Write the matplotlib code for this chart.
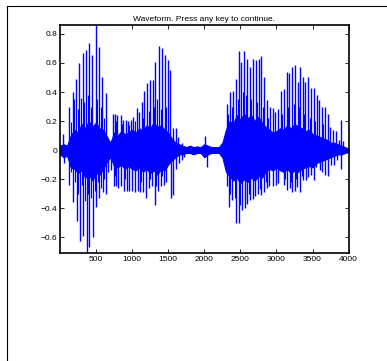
import matplotlib
matplotlib.use("Agg")
import matplotlib.pyplot as plt
from matplotlib.lines import Line2D

# tall positive spikes (sample index, value)
peak_x = [48, 126, 177, 223, 269, 315, 361, 403, 449, 500, 541, 588, 634, 657,
          740, 763, 795, 842, 879, 916, 948, 980, 1017, 1063, 1100, 1133, 1169,
          1206, 1243, 1285, 1322, 1373, 1419, 1456, 1493, 1530, 1567, 1604, 1640,
          1687, 1816, 2010, 2218, 2310, 2351, 2402, 2435, 2476, 2513, 2555, 2596,
          2633, 2670, 2712, 2753, 2790, 2832, 2864, 2910, 2947, 2984, 3021, 3058,
          3104, 3141, 3178, 3215, 3256, 3293, 3326, 3363, 3400, 3441, 3473, 3515,
          3556, 3593, 3626, 3672, 3709, 3746, 3787, 3829, 3866, 3889, 3926, 3972]
peak_y = [0.11, 0.30, 0.40, 0.49, 0.60, 0.67, 0.69, 0.735, 0.655, 0.864, 0.71,
          0.505, 0.39, 0.10, 0.25, 0.25, 0.24, 0.24, 0.21, 0.21, 0.20, 0.21, 0.23,
          0.29, 0.26, 0.33, 0.41, 0.46, 0.48, 0.48, 0.61, 0.72, 0.70, 0.655, 0.62,
          0.55, 0.15, 0.15, 0.09, 0.05, 0.03, 0.10, 0.02, 0.32, 0.40, 0.41, 0.49,
          0.685, 0.61, 0.685, 0.63, 0.575, 0.63, 0.62, 0.63, 0.645, 0.505, 0.345,
          0.30, 0.29, 0.26, 0.28, 0.41, 0.42, 0.54, 0.53, 0.575, 0.585, 0.47,
          0.575, 0.505, 0.47, 0.505, 0.425, 0.43, 0.38, 0.345, 0.30, 0.295, 0.25,
          0.16, 0.14, 0.13, 0.07, 0.21, 0.06, 0.01]

# deep negative spikes (sample index, value)
trough_x = [55, 130, 181, 232, 274, 320, 371, 408, 454, 505, 546, 592, 639, 662,
            703, 745, 777, 809, 847, 888, 925, 962, 1003, 1045, 1082, 1114, 1146,
            1193, 1229, 1271, 1317, 1359, 1396, 1437, 1474, 1535, 1562, 1610, 1645,
            1687, 1724, 2033, 2315, 2347, 2388, 2439, 2481, 2518, 2560, 2592, 2638,
            2675, 2707, 2744, 2786, 2827, 2869, 2901, 2952, 2989, 3026, 3109, 3146,
            3183, 3220, 3252, 3289, 3331, 3368, 3405, 3437, 3478, 3520, 3552, 3598,
            3630, 3677, 3714, 3751, 3792, 3834, 3894, 3977]
trough_y = [-0.09, -0.24, -0.36, -0.49, -0.63, -0.59, -0.712, -0.67, -0.60, -0.39,
            -0.33, -0.29, -0.30, -0.15, -0.14, -0.25, -0.25, -0.26, -0.25, -0.28,
            -0.28, -0.28, -0.28, -0.29, -0.28, -0.29, -0.29, -0.33, -0.26, -0.25,
            -0.38, -0.28, -0.25, -0.24, -0.22, -0.33, -0.31, -0.13, -0.09, -0.07,
            -0.05, -0.115, -0.25, -0.39, -0.345, -0.505, -0.505, -0.41, -0.40,
            -0.37, -0.345, -0.335, -0.32, -0.30, -0.31, -0.29, -0.265, -0.25, -0.25,
            -0.24, -0.23, -0.24, -0.275, -0.265, -0.29, -0.28, -0.255, -0.29,
            -0.205, -0.205, -0.185, -0.17, -0.205, -0.115, -0.14, -0.15, -0.17,
            -0.18, -0.10, -0.10, -0.07, -0.13, -0.02]

# medium spikes inside the voiced parts (sample index, value)
mid_x = [150, 200, 245, 290, 340, 385, 430, 520, 565, 610, 160, 210, 255, 300,
         345, 390, 435, 480, 525, 570, 615, 780, 860, 960, 1040, 1150, 1230, 1300,
         1350, 1400, 1470, 760, 900, 1000, 1120, 1250, 1330, 1420, 2330, 2380,
         2460, 2530, 2580, 2650, 2730, 2810, 2880, 3080, 3160, 3240, 3310, 3380,
         3460, 3540, 3650, 2360, 2420, 2500, 2570, 2620, 2700, 2770, 2850, 3000,
         3120, 3200, 3270, 3350, 3430, 3600]
mid_y = [0.19, 0.35, 0.28, 0.36, 0.33, 0.38, 0.30, 0.35, 0.30, 0.22, -0.15, -0.22,
         -0.30, -0.24, -0.35, -0.30, -0.33, -0.28, -0.22, -0.26, -0.20, 0.20, 0.18,
         0.17, 0.20, 0.22, 0.27, 0.30, 0.35, 0.28, 0.30, -0.18, -0.20, -0.21,
         -0.22, -0.20, -0.25, -0.18, 0.25, 0.30, 0.35, 0.40, 0.38, 0.35, 0.33,
         0.30, 0.22, 0.25, 0.30, 0.32, 0.30, 0.25, 0.22, 0.20, 0.18, -0.30, -0.33,
         -0.38, -0.35, -0.30, -0.28, -0.27, -0.22, -0.18, -0.20, -0.22, -0.20,
         -0.18, -0.15, -0.12]

# dense low-amplitude core of the signal, every 50 samples (upper, lower)
core_x = [1] + list(range(50, 4001, 50))
core_hi = [0.03, 0.04, 0.03, 0.10, 0.14, 0.12, 0.18, 0.15, 0.20, 0.16, 0.19,
           0.15, 0.14, 0.09, 0.05, 0.12, 0.10, 0.13, 0.11, 0.12, 0.14, 0.12,
           0.15, 0.13, 0.17, 0.15, 0.19, 0.16, 0.17, 0.14, 0.12, 0.08, 0.05,
           0.04, 0.03, 0.02, 0.03, 0.02, 0.025, 0.02, 0.04, 0.03, 0.02, 0.02,
           0.02, 0.05, 0.14, 0.20, 0.18, 0.24, 0.21, 0.25, 0.22, 0.24, 0.20,
           0.23, 0.19, 0.16, 0.14, 0.12, 0.13, 0.15, 0.14, 0.17, 0.15, 0.18,
           0.16, 0.15, 0.13, 0.14, 0.11, 0.10, 0.09, 0.08, 0.07, 0.05, 0.05,
           0.04, 0.03, 0.02, 0.01]
core_lo = [-0.03, -0.05, -0.04, -0.12, -0.13, -0.16, -0.14, -0.19, -0.17, -0.21,
           -0.16, -0.17, -0.13, -0.08, -0.05, -0.11, -0.12, -0.10, -0.13, -0.11,
           -0.13, -0.14, -0.12, -0.15, -0.13, -0.16, -0.14, -0.17, -0.13, -0.14,
           -0.10, -0.07, -0.05, -0.03, -0.03, -0.02, -0.02, -0.03, -0.02, -0.02,
           -0.05, -0.03, -0.02, -0.02, -0.02, -0.05, -0.15, -0.18, -0.21, -0.19,
           -0.23, -0.20, -0.22, -0.19, -0.21, -0.18, -0.19, -0.15, -0.13, -0.14,
           -0.12, -0.14, -0.15, -0.13, -0.16, -0.14, -0.15, -0.13, -0.12, -0.11,
           -0.12, -0.09, -0.08, -0.07, -0.06, -0.05, -0.04, -0.03, -0.03, -0.02,
           -0.01]

xticks = [500, 1000, 1500, 2000, 2500, 3000, 3500, 4000]
yticks = [-0.6, -0.4, -0.2, 0, 0.2, 0.4, 0.6, 0.8]

plt.rcParams["font.family"] = ["Liberation Sans", "DejaVu Sans"]

blue = "#0000ff"
fig = plt.figure(figsize=(3.87, 3.61), dpi=100)
ax = fig.add_axes([0.155, 0.2983, 0.746, 0.6333])

ax.fill_between(core_x, core_lo, core_hi, color=blue, linewidth=0.8)
ax.vlines(peak_x, 0, peak_y, color=blue, linewidth=1.0)
ax.vlines(trough_x, trough_y, 0, color=blue, linewidth=1.0)
ax.vlines(mid_x, 0, mid_y, color=blue, linewidth=0.8)

ax.set_xlim(1, 4000)
ax.set_ylim(-0.712, 0.864)
ax.set_xticks(xticks)
ax.set_yticks(yticks)
ax.set_yticklabels(["0" if v == 0 else f"{v:.1f}".replace("-", "\u2212") for v in yticks])
ax.tick_params(direction="in", length=3, width=0.6, labelsize=6, pad=2,
               top=True, right=True)
for s in ax.spines.values():
    s.set_linewidth(1.2)
ax.set_title("Waveform. Press any key to continue.", fontsize=6, pad=3)

# outer frame of the figure window
fig.add_artist(Line2D([0.0168, 0.0168], [0, 0.9825], color="black", linewidth=0.8))
fig.add_artist(Line2D([0.0168, 1], [0.9825, 0.9825], color="black", linewidth=0.8))

fig.savefig("out.png", dpi=100)
